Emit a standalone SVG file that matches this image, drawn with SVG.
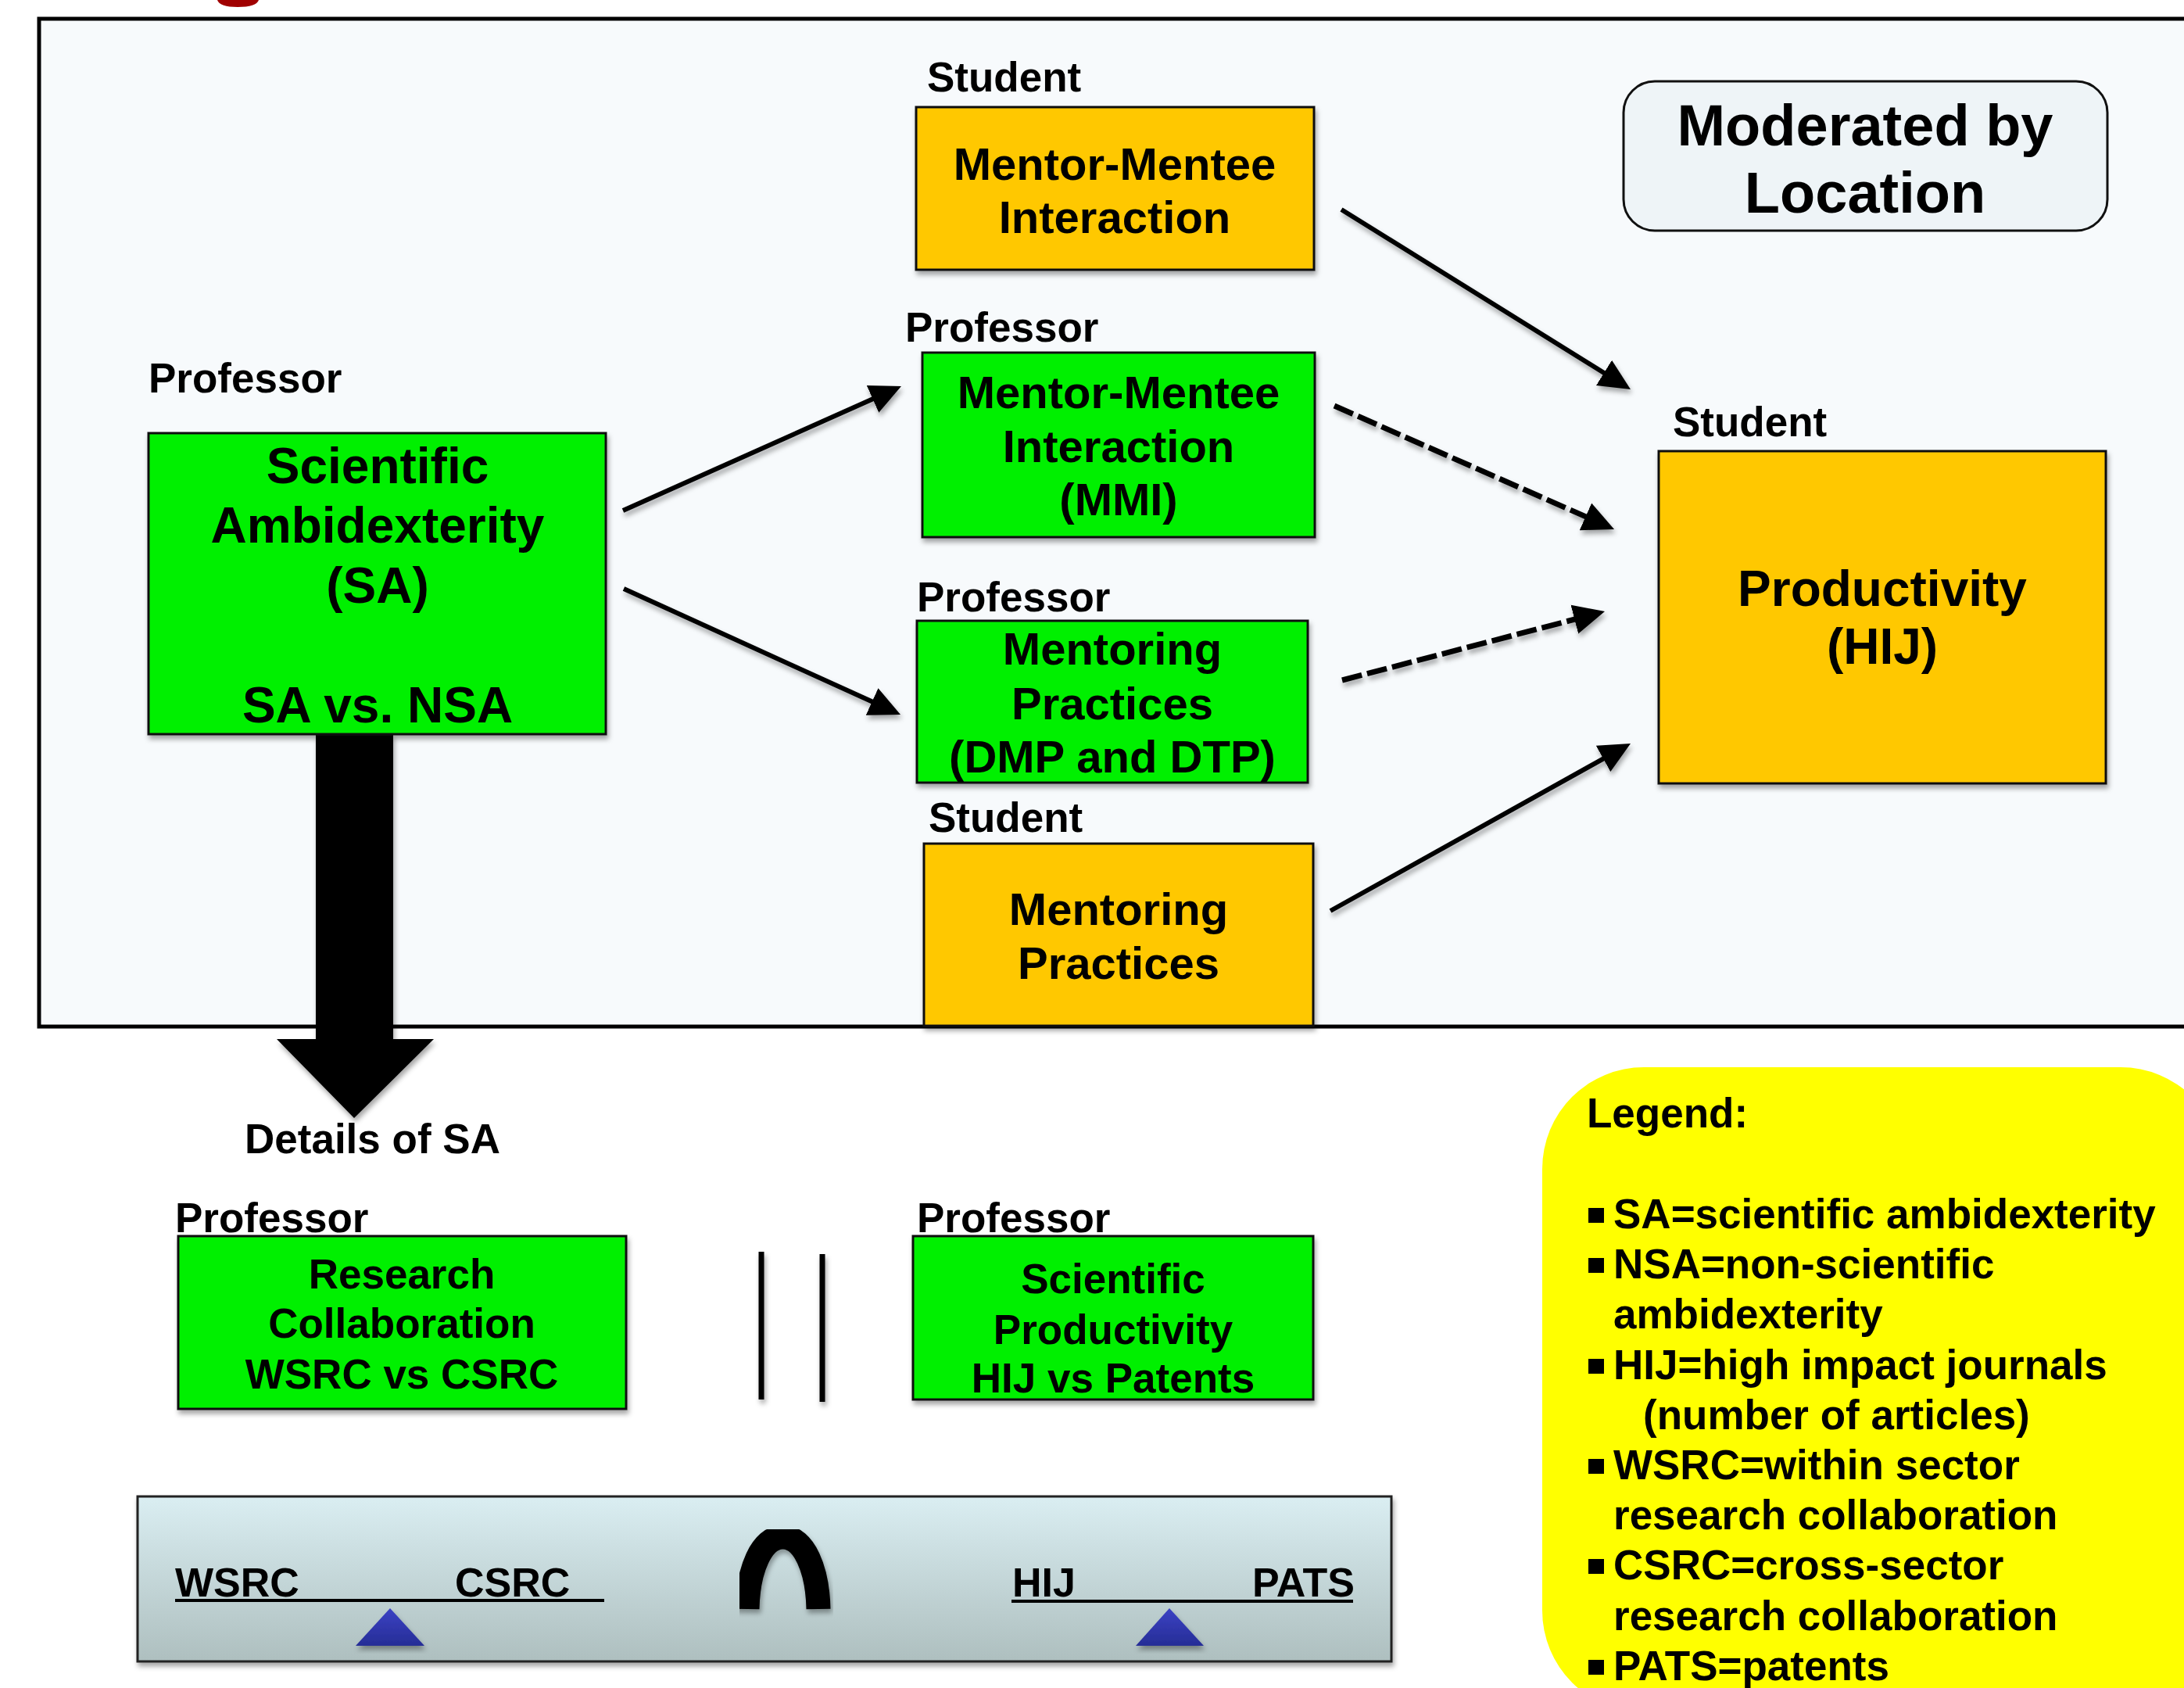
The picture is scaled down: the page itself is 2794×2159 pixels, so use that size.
<svg xmlns="http://www.w3.org/2000/svg" width="2794" height="2159" viewBox="0 0 2794 2159">
<defs>
<style>
text{font-family:"Liberation Sans",Arial,sans-serif;font-weight:bold;fill:#000}
.lbl{font-size:53px}
.t58{font-size:58px;text-anchor:middle}
.t64{font-size:64px;text-anchor:middle}
.t53m{font-size:53px;text-anchor:middle}
.t52{font-size:52px}
.leg{font-size:53px}
.box{stroke:#111;stroke-width:3}
.green{fill:#00f000}
.orange{fill:#ffc800}
.conn{stroke:#000;stroke-width:6;fill:none;marker-end:url(#ah)}
.dash{stroke-width:7;stroke-dasharray:26 7}
</style>
<filter id="sh" x="-10%" y="-10%" width="130%" height="130%">
<feDropShadow dx="2" dy="5" stdDeviation="3" flood-color="#000" flood-opacity="0.35"/>
</filter>
<marker id="ah" markerUnits="userSpaceOnUse" markerWidth="44" markerHeight="44" viewBox="0 -22 44 44" refX="10" refY="0" orient="auto">
<path d="M0,-19 L40,0 L0,19 Z" fill="#000"/>
</marker>
<linearGradient id="panelg" x1="0" y1="0" x2="0" y2="1">
<stop offset="0" stop-color="#daeef2"/>
<stop offset="1" stop-color="#aebfbf"/>
</linearGradient>
<linearGradient id="blueg" x1="0" y1="0" x2="0" y2="1">
<stop offset="0" stop-color="#3b42c4"/>
<stop offset="1" stop-color="#262d96"/>
</linearGradient>
</defs>

<rect x="0" y="0" width="2794" height="2159" fill="#ffffff"/>
<path d="M278,0 Q281,9 304,9 Q328,9 331,0 Z" fill="#a00000"/>

<g id="frame">
<rect x="50" y="24" width="2800" height="1289" fill="#f7fafc" stroke="#000" stroke-width="5"/>
</g>

<g id="moderated">
<rect x="2077" y="104" width="619" height="191" rx="40" ry="40" fill="#eef4f7" stroke="#111" stroke-width="3"/>
<text x="2386" y="186" font-size="74" text-anchor="middle">Moderated by</text>
<text x="2386" y="272" font-size="74" text-anchor="middle">Location</text>
</g>

<g id="connectors" filter="url(#sh)">
<line class="conn" x1="797" y1="653" x2="1125.6" y2="506.2"/>
<line class="conn" x1="798" y1="753" x2="1124.7" y2="901.6"/>
<line class="conn" x1="1716" y1="268" x2="2060.5" y2="482.2"/>
<line class="conn dash" x1="1707" y1="519" x2="2037.6" y2="664.8"/>
<line class="conn dash" x1="1717" y1="870" x2="2024" y2="789.6"/>
<line class="conn" x1="1702" y1="1165" x2="2059.8" y2="965.6"/>
<polygon points="404,939 503,939 503,1329 555,1329 453,1430 354,1329 404,1329" fill="#000"/>
</g>

<g id="sa">
<text class="lbl" x="190" y="502">Professor</text>
<rect class="box green" x="190" y="554" width="585" height="385" filter="url(#sh)"/>
<text class="t64" x="483" y="618">Scientific</text>
<text class="t64" x="483" y="694">Ambidexterity</text>
<text class="t64" x="483" y="771">(SA)</text>
<text class="t64" x="483" y="924">SA vs. NSA</text>
</g>

<g id="mmi-student">
<text class="lbl" x="1186" y="117">Student</text>
<rect class="box orange" x="1172" y="137" width="509" height="208" filter="url(#sh)"/>
<text class="t58" x="1426" y="230">Mentor-Mentee</text>
<text class="t58" x="1426" y="298">Interaction</text>
</g>

<g id="mmi-professor">
<text class="lbl" x="1158" y="437">Professor</text>
<rect class="box green" x="1180" y="451" width="502" height="236" filter="url(#sh)"/>
<text class="t58" x="1431" y="522">Mentor-Mentee</text>
<text class="t58" x="1431" y="591">Interaction</text>
<text class="t58" x="1431" y="659">(MMI)</text>
</g>

<g id="mp-professor">
<text class="lbl" x="1173" y="782">Professor</text>
<rect class="box green" x="1173" y="794" width="500" height="207" filter="url(#sh)"/>
<text class="t58" x="1423" y="850">Mentoring</text>
<text class="t58" x="1423" y="920">Practices</text>
<text class="t58" x="1423" y="988">(DMP and DTP)</text>
</g>

<g id="mp-student">
<text class="lbl" x="1188" y="1064">Student</text>
<rect class="box orange" x="1182" y="1079" width="498" height="233" filter="url(#sh)"/>
<text class="t58" x="1431" y="1183">Mentoring</text>
<text class="t58" x="1431" y="1252">Practices</text>
</g>

<g id="productivity">
<text class="lbl" x="2140" y="558">Student</text>
<rect class="box orange" x="2122" y="577" width="572" height="425" filter="url(#sh)"/>
<text class="t64" x="2408" y="775">Productivity</text>
<text class="t64" x="2408" y="849">(HIJ)</text>
</g>

<g id="details">
<text class="lbl" x="313" y="1475">Details of SA</text>
</g>

<g id="research">
<text class="lbl" x="224" y="1576">Professor</text>
<rect class="box green" x="228" y="1581" width="573" height="221" filter="url(#sh)"/>
<text class="t53m" x="514" y="1648">Research</text>
<text class="t53m" x="514" y="1711">Collaboration</text>
<text class="t53m" x="514" y="1776">WSRC vs CSRC</text>
</g>

<g id="parallel" filter="url(#sh)">
<line x1="974" y1="1601" x2="974" y2="1790" stroke="#000" stroke-width="7"/>
<line x1="1052" y1="1604" x2="1052" y2="1793" stroke="#000" stroke-width="7"/>
</g>

<g id="sciprod">
<text class="lbl" x="1173" y="1576">Professor</text>
<rect class="box green" x="1168" y="1581" width="512" height="209" filter="url(#sh)"/>
<text class="t53m" x="1424" y="1654">Scientific</text>
<text class="t53m" x="1424" y="1719">Productivity</text>
<text class="t53m" x="1424" y="1781">HIJ vs Patents</text>
</g>

<g id="scale">
<rect x="176" y="1914" width="1604" height="211" fill="url(#panelg)" stroke="#222" stroke-width="3" filter="url(#sh)"/>
<text class="t52" x="224" y="2042">WSRC</text>
<text class="t52" x="582" y="2042">CSRC</text>
<line x1="224" y1="2047" x2="773" y2="2047" stroke="#000" stroke-width="4"/>
<text class="t52" x="1295" y="2042">HIJ</text>
<text class="t52" x="1733" y="2042" text-anchor="end">PATS</text>
<line x1="1294" y1="2048" x2="1731" y2="2048" stroke="#000" stroke-width="4"/>
<polygon points="499,2057 543,2105 455,2105" fill="url(#blueg)" filter="url(#sh)"/>
<polygon points="1496,2057 1540,2105 1453,2105" fill="url(#blueg)" filter="url(#sh)"/>
<path d="M956,2058 C957,2008 974,1966 1001.5,1966 C1029,1966 1046,2008 1047,2058" fill="none" stroke="#000" stroke-width="31" filter="url(#sh)"/>
</g>

<g id="legend">
<rect x="1973" y="1365" width="870" height="825" rx="130" ry="130" fill="#ffff00"/>
<text class="leg" x="2030" y="1442">Legend:</text>
<g fill="#000">
<rect x="2032" y="1545" width="20" height="19"/>
<rect x="2032" y="1609" width="20" height="19"/>
<rect x="2032" y="1738" width="20" height="19"/>
<rect x="2032" y="1866" width="20" height="19"/>
<rect x="2032" y="1994" width="20" height="19"/>
<rect x="2032" y="2123" width="20" height="19"/>
</g>
<text class="leg" x="2064" y="1571">SA=scientific ambidexterity</text>
<text class="leg" x="2064" y="1635">NSA=non-scientific</text>
<text class="leg" x="2064" y="1699">ambidexterity</text>
<text class="leg" x="2064" y="1764">HIJ=high impact journals</text>
<text class="leg" x="2102" y="1828">(number of articles)</text>
<text class="leg" x="2064" y="1892">WSRC=within sector</text>
<text class="leg" x="2064" y="1956">research collaboration</text>
<text class="leg" x="2064" y="2020">CSRC=cross-sector</text>
<text class="leg" x="2064" y="2085">research collaboration</text>
<text class="leg" x="2064" y="2149">PATS=patents</text>
</g>
</svg>
